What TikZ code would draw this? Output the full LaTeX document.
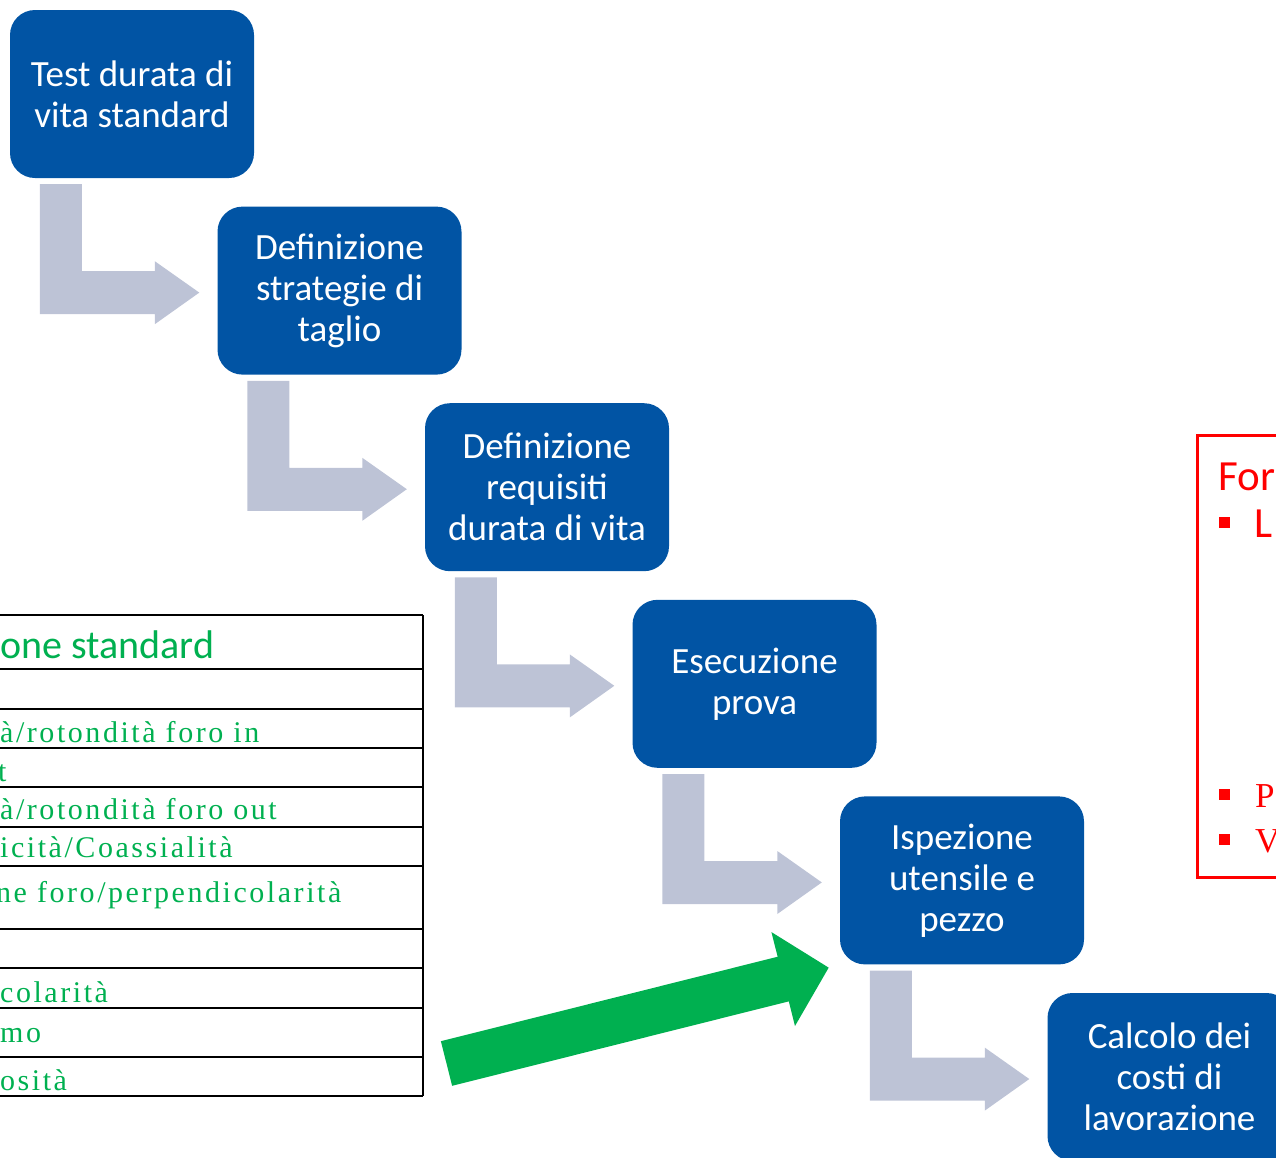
\documentclass[tikz,border=0pt]{standalone}
\usepackage{fontspec}
\setmainfont{Carlito}
\newfontfamily\cellfont{Liberation Serif}[LetterSpace=8.5]
\newfontfamily\plainserif{Liberation Serif}
\usetikzlibrary{calc,arrows.meta}
\definecolor{stepblue}{RGB}{1,84,164}
\definecolor{bendgray}{RGB}{189,195,214}
\definecolor{okgreen}{RGB}{0,176,80}
\tikzset{
  stepbox/.style={draw=none, fill=stepblue, rounded corners=25pt,
    minimum width=244pt, minimum height=168pt, inner sep=0pt,
    text=white, align=center, font=\fontsize{37pt}{41pt}\selectfont},
  bendarrow/.style={fill=bendgray, draw=none},
  cell/.style={anchor=base west, inner sep=0pt, text=okgreen,
    font=\cellfont\fontsize{30pt}{36pt}\selectfont},
  tablerule/.style={line width=2.5pt, draw=black},
  redtext/.style={anchor=base west, inner sep=0pt, text=red},
}
\begin{document}
\begin{tikzpicture}[x=1pt,y=-1pt]
\useasboundingbox (0,0) rectangle (1276,1157);
\clip (0,0) rectangle (1276,1157);

% process steps
\node[stepbox] (b1) at (132,94)     {Test durata di\\vita standard};
\node[stepbox] (b2) at (339.5,290.6) {Definizione\\strategie di\\taglio};
\node[stepbox] (b3) at (547,487.2)  {Definizione\\requisiti\\durata di vita};
\node[stepbox] (b4) at (754.5,683.8) {Esecuzione\\prova};
\node[stepbox] (b5) at (962,880.4)  {Ispezione\\utensile e\\pezzo};
\node[stepbox] (b6) at (1169.5,1077) {Calcolo dei\\costi di\\lavorazione};

% bent arrows between consecutive steps
\foreach \a/\b in {b1/b2,b2/b3,b3/b4,b4/b5,b5/b6} {
  \fill[bendarrow]
    ($(\a.south west)+(30,6)$) -- ($(\a.south west)+(72,6)$)
    -- ($(\a.south west)+(72,93)$) -- ($(\a.south west)+(145,93)$)
    -- ($(\a.south west)+(145,83)$) -- ($(\b.west)+(-18,2)$)
    -- ($(\a.south west)+(145,146)$) -- ($(\a.south west)+(145,136)$)
    -- ($(\a.south west)+(30,136)$) -- cycle;
}

% table of standard checks
\foreach \y in {615,669,709,748,787,827,866,929,968,1008,1057,1096}
  \draw[tablerule] (-5,\y) -- (423,\y);
\draw[tablerule] (423,615) -- (423,1096);
\node[anchor=base west, inner sep=0pt, text=okgreen,
  font=\fontsize{40pt}{40pt}\selectfont] (ttl) at (0,658) {one standard};
\node[cell] (r1) at (0,742)  {à/rotondità foro in};
\node[cell] (r2) at (-2,781) {t};
\node[cell] (r3) at (0,819)  {à/rotondità foro out};
\node[cell] (r4) at (0,857)  {icità/Coassialità};
\node[cell] (r5) at (-4,902) {ne foro/perpendicolarità};
\node[cell] (r6) at (0,1002) {colarità};
\node[cell] (r7) at (0,1042) {mo};
\node[cell] (r8) at (0,1090) {osità};

% green arrow into the inspection step
\coordinate (gtail) at (446.5,1063.5);
\coordinate (gtip) at ($(b5.south west)+(-11,3)$);
\draw[okgreen, line width=46pt, -{Triangle[width=94pt,length=47pt]}] (gtail) -- (gtip);

% red side box
\draw[red, line width=3pt] (1197,435) rectangle (1300,877);
\node[redtext, font=\fontsize{43pt}{43pt}\selectfont] (fhead) at (1218,490) {For};
\fill[red] (1219,517) rectangle ++(11,11);
\fill[red] (1219,789) rectangle ++(11,11);
\fill[red] (1219,834) rectangle ++(11,11);
\node[redtext, font=\fontsize{43pt}{43pt}\selectfont] (li1) at (1254,537) {L};
\node[redtext, font=\plainserif\fontsize{35pt}{35pt}\selectfont] (li2) at (1255,807) {P};
\node[redtext, font=\plainserif\fontsize{35pt}{35pt}\selectfont] (li3) at (1255,852) {V};
\end{tikzpicture}
\end{document}
